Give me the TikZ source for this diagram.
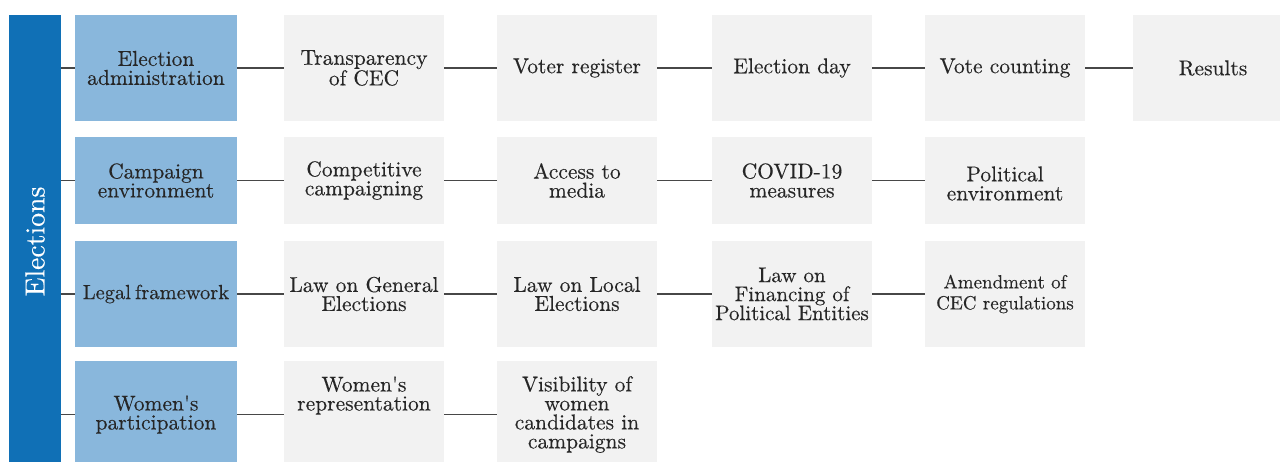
\documentclass[tikz,border=0pt]{standalone}
\usepackage{fontspec}
\setmainfont{lmroman10-regular}[Extension=.otf,BoldFont=lmroman10-bold,FakeBold=0.3]
\definecolor{barblue}{HTML}{1070B6}
\definecolor{catblue}{HTML}{89B7DC}
\definecolor{itemgray}{HTML}{F2F2F2}
\definecolor{txt}{HTML}{262626}
\definecolor{linegray}{HTML}{474747}
\newcommand{\apos}{\textquotesingle}
\begin{document}
\begin{tikzpicture}[x=1pt,y=-1pt,
  box/.style={rectangle,inner sep=0pt,align=center,text=txt,
    font=\fontsize{21.5}{19}\selectfont},
  catbox/.style={box,fill=catblue,minimum width=162pt},
  itembox/.style={box,fill=itemgray,minimum width=160pt},
  small/.style={font=\fontsize{19}{21}\selectfont},
  rowA/.style={minimum height=106pt},
  rowB/.style={minimum height=87pt},
  rowC/.style={minimum height=106pt},
  rowD/.style={minimum height=107pt},
  conn/.style={draw=linegray,line width=1.4pt}]
\clip (0,0) rectangle (1280,461);
\fill[white] (0,0) rectangle (1280,461);

% vertical title bar
\node[rectangle,fill=barblue,minimum width=52pt,minimum height=453pt,inner sep=0pt,
  label={[rotate=90,text=white,font=\fontsize{27.7}{30}\selectfont]center:Elections}]
  (bar) at (35,241.5) {};

% categories
\node[catbox,rowA] (cat1) at (156,68)    {Election\\administration};
\node[catbox,rowB] (cat2) at (156,180.5) {Campaign\\environment};
\node[catbox,rowC,font=\fontsize{20.5}{19}\selectfont] (cat3) at (156,294)
  {Legal\hspace{0.2em}framework};
\node[catbox,rowD] (cat4) at (156,414.5) {Women\apos s\\participation};

% row 1
\node[itembox,rowA] (a1) at (364,68)  {Transparency\\of CEC};
\node[itembox,rowA] (a2) at (577,68)  {Voter register};
\node[itembox,rowA] (a3) at (792,68)  {Election day};
\node[itembox,rowA] (a4) at (1005,68) {Vote counting};
\node[itembox,rowA] (a5) at (1213,68) {Results};

% row 2
\node[itembox,rowB] (b1) at (364,180.5)  {Competitive\\campaigning};
\node[itembox,rowB] (b2) at (577,180.5)  {Access to\\media};
\node[itembox,rowB] (b3) at (792,180.5)  {COVID-19\\measures};
\node[itembox,rowB,
  label={[box,yshift=-3pt]center:Political\\environment}] (b4) at (1005,180.5) {};

% row 3
\node[itembox,rowC] (c1) at (364,294)  {Law on General\\Elections};
\node[itembox,rowC] (c2) at (577,294)  {Law on Local\\Elections};
\node[itembox,rowC,font=\fontsize{21}{19}\selectfont] (c3) at (792,294)
  {Law on\\Financing of\\Political Entities};
\node[itembox,rowC,small] (c4) at (1005,294) {Amendment of\\CEC regulations};

% row 4
\node[itembox,rowD,
  label={[box,yshift=19pt]center:Women\apos s\\representation}] (d1) at (364,414.5) {};
\node[itembox,rowD] (d2) at (577,414.5) {Visibility of\\women\\candidates in\\campaigns};

% connectors from the title bar
\foreach \c in {cat1,cat2,cat3,cat4}
  \draw[conn] (bar.east |- \c.west) -- (\c.west);

% connectors along each row
\draw[conn] (cat1) -- (a1) (a1) -- (a2) (a2) -- (a3) (a3) -- (a4) (a4) -- (a5);
\draw[conn] (cat2) -- (b1) (b1) -- (b2) (b2) -- (b3) (b3) -- (b4);
\draw[conn] (cat3) -- (c1) (c1) -- (c2) (c2) -- (c3) (c3) -- (c4);
\draw[conn] (cat4) -- (d1) (d1) -- (d2);
\end{tikzpicture}
\end{document}
